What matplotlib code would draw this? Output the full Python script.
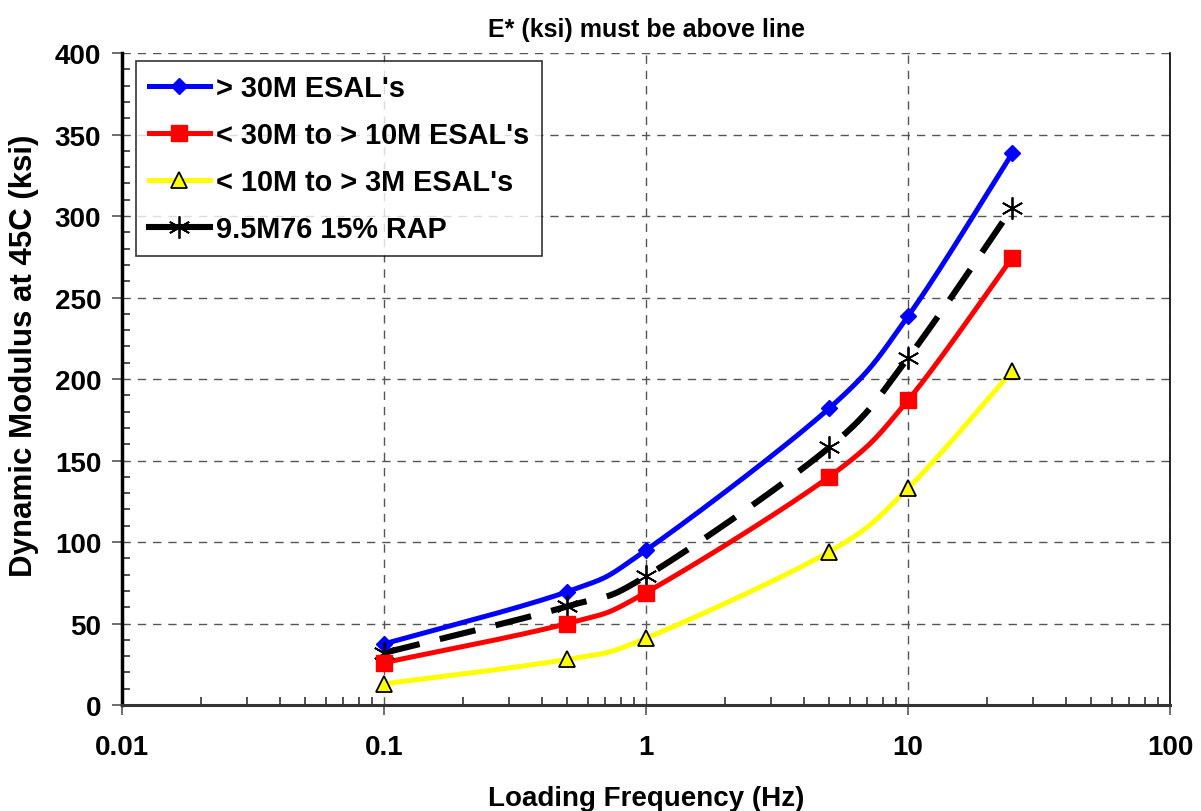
import numpy as np
import matplotlib
matplotlib.use("Agg")
import matplotlib.pyplot as plt
from matplotlib.ticker import FixedLocator, NullFormatter, FixedFormatter

plt.rcParams['font.family'] = ['Liberation Sans', 'DejaVu Sans']
plt.rcParams['font.weight'] = 'bold'

freq = [0.1, 0.5, 1, 5, 10, 25]
blue_vals = [37.5, 69.5, 95, 182, 238.5, 338.5]
red_vals = [26, 50, 69, 140, 187, 274.5]
yellow_vals = [13, 28, 41, 94, 133, 205]
black_vals = [32, 60.5, 79, 158, 213, 305]

labels = ["> 30M ESAL's", "< 30M to > 10M ESAL's", "< 10M to > 3M ESAL's", "9.5M76 15% RAP"]
xticks = [0.01, 0.1, 1, 10, 100]
xticklabels = ["0.01", "0.1", "1", "10", "100"]
yticks = [0, 50, 100, 150, 200, 250, 300, 350, 400]


def smooth(x, y, n=60, tension=0.5):
    """Catmull-Rom style smoothed path through the points (drawing only)."""
    lx = np.log10(np.asarray(x, float))
    y = np.asarray(y, float)
    px, py = [], []
    m = len(lx)
    for i in range(m - 1):
        p0 = i - 1 if i > 0 else i
        p3 = i + 2 if i + 2 < m else i + 1
        mx1 = tension * (lx[i + 1] - lx[p0])
        my1 = tension * (y[i + 1] - y[p0])
        mx2 = tension * (lx[p3] - lx[i])
        my2 = tension * (y[p3] - y[i])
        t = np.linspace(0, 1, n)
        h00 = 2 * t**3 - 3 * t**2 + 1
        h10 = t**3 - 2 * t**2 + t
        h01 = -2 * t**3 + 3 * t**2
        h11 = t**3 - t**2
        px.append(h00 * lx[i] + h10 * mx1 + h01 * lx[i + 1] + h11 * mx2)
        py.append(h00 * y[i] + h10 * my1 + h01 * y[i + 1] + h11 * my2)
    return 10 ** np.concatenate(px), np.concatenate(py)


fig = plt.figure(figsize=(12.01, 8.12), dpi=100)
ax = fig.add_axes([0.1016, 0.1305, 0.8726, 0.803])
ax.set_xscale('log')
ax.set_xlim(0.01, 100)
ax.set_ylim(0, 400)

ax.grid(True, which='major', linestyle=(0, (6, 5)), color='#555555', linewidth=1.0)
ax.set_axisbelow(True)

series = [
    (blue_vals, dict(color='#0000ff', lw=3.6, marker='D', ms=8.5, mfc='#0000ff', mec='#0000ff', ls='-'), labels[0]),
    (red_vals, dict(color='#ff0000', lw=3.6, marker='s', ms=11, mfc='#ff0000', mec='#ff0000', ls='-'), labels[1]),
    (yellow_vals, dict(color='#ffff00', lw=3.6, marker='^', ms=11, mfc='#ffff00', mec='black', mew=1.3, ls='-'), labels[2]),
    (black_vals, dict(color='black', lw=4.4, marker=(6, 2, 0), ms=16, mfc='black', mec='black', mew=1.3, ls=(0, (6, 3.4))), labels[3]),
]
order = [0, 3, 1, 2]
handles = [None] * 4
for idx in order:
    vals, st, lab = series[idx]
    sx, sy = smooth(freq, vals)
    ax.plot(sx, sy, color=st['color'], lw=st['lw'], ls=st['ls'], zorder=3 + idx * 0.1)
    ax.plot(freq, vals, ls='none', marker=st['marker'], ms=st['ms'], mfc=st['mfc'],
            mec=st['mec'], mew=st.get('mew', 1), zorder=4, clip_on=False)
    handles[idx] = plt.Line2D([], [], color=st['color'], lw=st['lw'],
                              ls='-', marker=st['marker'],
                              ms=st['ms'], mfc=st['mfc'], mec=st['mec'], mew=st.get('mew', 1))

ax.xaxis.set_major_locator(FixedLocator(xticks))
ax.xaxis.set_major_formatter(FixedFormatter(xticklabels))
minor_x = [m * 10.0**e for e in range(-2, 2) for m in range(2, 10)]
ax.xaxis.set_minor_locator(FixedLocator(minor_x))
ax.xaxis.set_minor_formatter(NullFormatter())
ax.set_yticks(yticks)
ax.yaxis.set_minor_locator(FixedLocator(list(range(0, 401, 10))))

ax.tick_params(axis='both', which='major', direction='out', length=7, width=1.2,
               color='#555555', labelsize=20, pad=8)
ax.tick_params(axis='x', which='major', pad=14)
ax.tick_params(axis='both', which='minor', direction='in', length=6, width=1.2, color='#333333')
for lab in ax.get_xticklabels() + ax.get_yticklabels():
    lab.set_fontweight('bold')

ax.spines['top'].set_visible(False)
ax.spines['left'].set_linewidth(2.5)
ax.spines['left'].set_color('black')
ax.spines['bottom'].set_linewidth(2.2)
ax.spines['bottom'].set_color('#333333')
ax.spines['right'].set_linewidth(1.2)
ax.spines['right'].set_color('black')

ax.set_title("E* (ksi) must be above line", fontsize=18, fontweight='bold', pad=12)
ax.set_xlabel("Loading Frequency (Hz)", fontsize=20, fontweight='bold', labelpad=18)
ax.set_ylabel("Dynamic Modulus at 45C (ksi)", fontsize=22.5, fontweight='bold')
ax.yaxis.set_label_coords(-0.079, 0.537)

leg = ax.legend(handles, labels, loc='upper left', bbox_to_anchor=(0.0134, 0.9877),
                prop={'weight': 'bold', 'size': 20.8}, frameon=True, fancybox=False,
                edgecolor='black', handlelength=2.1, handletextpad=0.2, labelspacing=0.66,
                borderpad=0.45, borderaxespad=0.0)
leg.get_frame().set_linewidth(1.2)

fig.savefig("out.png", dpi=100)
